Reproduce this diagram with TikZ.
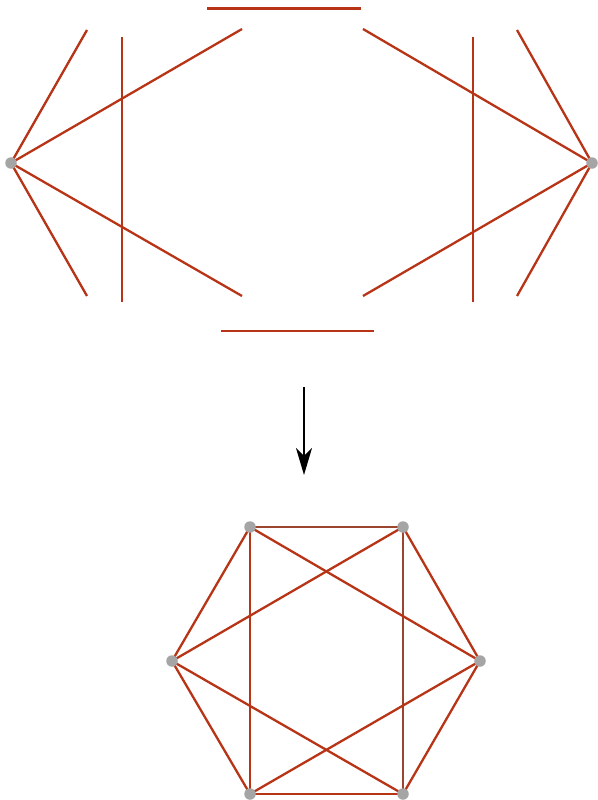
\documentclass[tikz,border=0pt]{standalone}
\usetikzlibrary{arrows.meta}
\definecolor{edgered}{RGB}{184,52,22}
\definecolor{edgebrown}{RGB}{155,68,48}
\definecolor{dotgray}{RGB}{165,165,165}
\begin{document}
\begin{tikzpicture}[x=1pt,y=-1pt,
  redline/.style={draw=edgered,line width=2.3pt},
  brownline/.style={draw=edgebrown,line width=2.3pt},
  vdot/.style={circle,fill=dotgray,inner sep=0pt,minimum size=11.5pt},
  bigarrow/.style={draw=black,line width=1.8pt,-{Stealth[length=27pt,width=16pt,inset=8pt]}}]
\useasboundingbox (0,0) rectangle (597,800);
% top part
\coordinate (L) at (11,163);
\coordinate (R) at (592,163);
\coordinate (l1) at (87,30);
\coordinate (l2) at (242,29);
\coordinate (l3) at (242,296);
\coordinate (l4) at (87,296);
\coordinate (r1) at (517,30);
\coordinate (r2) at (363,29);
\coordinate (r3) at (363,296);
\coordinate (r4) at (517,296);
\coordinate (v1a) at (122,37);
\coordinate (v1b) at (122,302);
\coordinate (v2a) at (473,37);
\coordinate (v2b) at (473,302);
\coordinate (h1a) at (207,8.5);
\coordinate (h1b) at (361,8.5);
\coordinate (h2a) at (221,331);
\coordinate (h2b) at (374,331);
\draw[redline] (L) -- (l1);
\draw[redline] (L) -- (l2);
\draw[redline] (L) -- (l3);
\draw[redline] (L) -- (l4);
\draw[redline] (R) -- (r1);
\draw[redline] (R) -- (r2);
\draw[redline] (R) -- (r3);
\draw[redline] (R) -- (r4);
\draw[redline] (v1a) -- (v1b);
\draw[redline] (v2a) -- (v2b);
\draw[redline] (h1a) -- (h1b);
\draw[redline] (h2a) -- (h2b);
\node[vdot] (Ldot) at (L) {};
\node[vdot] (Rdot) at (R) {};
% arrow
\coordinate (aS) at (304,387);
\coordinate (aE) at (304,475);
\draw[bigarrow] (aS) -- (aE);
% hexagon
\coordinate (ha) at (250,527);
\coordinate (hb) at (403,527);
\coordinate (hc) at (480,661);
\coordinate (hd) at (403,794);
\coordinate (he) at (250,794);
\coordinate (hf) at (172,661);
\draw[brownline] (ha) -- (hb);
\draw[redline] (hb) -- (hc);
\draw[redline] (hc) -- (hd);
\draw[redline] (hd) -- (he);
\draw[redline] (he) -- (hf);
\draw[redline] (hf) -- (ha);
\draw[redline] (ha) -- (he);
\draw[brownline] (hb) -- (hd);
\draw[redline] (ha) -- (hc);
\draw[redline] (hb) -- (hf);
\draw[redline] (hf) -- (hd);
\draw[redline] (he) -- (hc);
\node[vdot] (A) at (ha) {};
\node[vdot] (B) at (hb) {};
\node[vdot] (C) at (hc) {};
\node[vdot] (D) at (hd) {};
\node[vdot] (E) at (he) {};
\node[vdot] (F) at (hf) {};
\end{tikzpicture}
\end{document}
